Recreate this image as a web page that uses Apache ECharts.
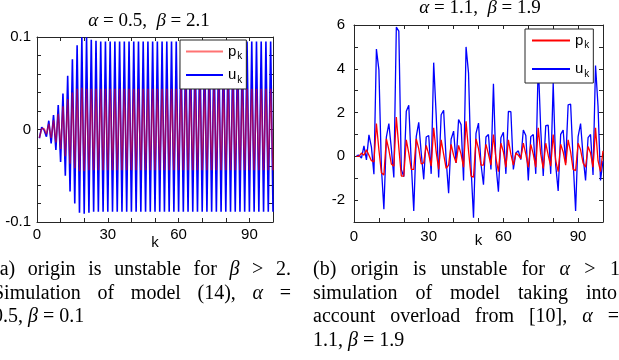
<!DOCTYPE html>
<html>
<head>
<meta charset="utf-8">
<script src="https://cdn.jsdelivr.net/npm/echarts@6/dist/echarts.min.js"></script>
<style>html,body{margin:0;padding:0;background:#fff;}#c{width:619px;height:360px;}</style>
</head>
<body>
<div id="c"></div>
<script>
// ---------- data ----------
const kSteps = Array.from({length: 100}, (_, i) => i + 1);
const xTicksLabelled = [0, 30, 60, 90];

// (a) alpha = 0.5, beta = 2.1
const uA = [
  -0.0095, 0.0024, -0.0005, -0.0077, 0.0095, -0.015, 0.0157, -0.022, 0.0265, -0.035,
  0.039, -0.050, 0.058, -0.067, 0.076, -0.080, 0.091, -0.090, 0.0996, -0.091,
  0.0996, -0.090, 0.097, -0.089, 0.096, -0.089, 0.095, -0.089, 0.095, -0.089,
  0.095, -0.089, 0.095, -0.089, 0.095, -0.089, 0.095, -0.089, 0.095, -0.089,
  0.095, -0.089, 0.095, -0.089, 0.095, -0.089, 0.095, -0.089, 0.095, -0.089,
  0.095, -0.089, 0.095, -0.089, 0.095, -0.089, 0.095, -0.089, 0.095, -0.089,
  0.095, -0.089, 0.095, -0.089, 0.095, -0.089, 0.095, -0.089, 0.095, -0.089,
  0.095, -0.089, 0.095, -0.089, 0.095, -0.089, 0.095, -0.089, 0.095, -0.089,
  0.095, -0.089, 0.095, -0.089, 0.095, -0.089, 0.095, -0.089, 0.095, -0.089,
  0.095, -0.089, 0.095, -0.089, 0.095, -0.089, 0.095, -0.089, 0.095, -0.089
];
const pA = [
  -0.009, 0.001, 0.001, -0.005, 0.006, -0.009, 0.010, -0.014, 0.017, -0.021,
  0.025, -0.029, 0.033, -0.037, 0.040, -0.042, 0.044, -0.045, 0.045, -0.045,
  0.044, -0.044, 0.044, -0.044, 0.044, -0.044, 0.044, -0.044, 0.044, -0.044,
  0.044, -0.044, 0.044, -0.044, 0.044, -0.044, 0.044, -0.044, 0.044, -0.044,
  0.044, -0.044, 0.044, -0.044, 0.044, -0.044, 0.044, -0.044, 0.044, -0.044,
  0.044, -0.044, 0.044, -0.044, 0.044, -0.044, 0.044, -0.044, 0.044, -0.044,
  0.044, -0.044, 0.044, -0.044, 0.044, -0.044, 0.044, -0.044, 0.044, -0.044,
  0.044, -0.044, 0.044, -0.044, 0.044, -0.044, 0.044, -0.044, 0.044, -0.044,
  0.044, -0.044, 0.044, -0.044, 0.044, -0.044, 0.044, -0.044, 0.044, -0.044,
  0.044, -0.044, 0.044, -0.044, 0.044, -0.044, 0.044, -0.044, 0.044, -0.044
];

// (b) alpha = 1.1, beta = 1.9
const uB = [
  0.03, 0.05, -0.08, 0.48, -0.16, 0.98, 0.42, -0.82, 4.9, 3.95,
  -0.5, -2.42, 0.88, 1.5, 0.35, -0.97, 5.9, 5.72, -0.6, -0.93,
  2.06, 2.33, -0.3, -2.5, 0.9, 1.55, 0.15, -1.05, 0.88, 0.95,
  -0.8, 4.28, 1.9, -0.97, 1.9, 2.1, -0.15, -1.68, 0.78, 1.15,
  -0.3, 1.68, 1.45, -1.1, 5.0, 3.8, -0.5, -2.8, 1.05, 1.52,
  -0.35, -1.3, 0.88, 1.0, -0.6, 3.32, -0.4, -1.62, 0.85, 1.1,
  -0.8, 2.05, 2.04, -0.6, 0.15, 0.25, -0.15, 1.2, 0.95, -1.1,
  0.9, 1.0, -0.8, 4.3, 1.2, -0.9, 1.4, 1.42, -0.8, 3.35,
  -0.4, -1.58, 1.0, 1.2, -0.3, 2.35, 2.38, -0.2, -2.5, 0.9,
  1.5, 0.0, -1.1, 0.85, 1.0, -0.85, 4.15, 2.3, -1.1, -0.2
];
const pB = [
  0.0, 0.0, 0.15, 0.05, 0.3, 0.05, -0.2, -0.25, 1.5, 0.3,
  -0.75, -0.85, 0.8, 0.3, -0.35, -0.45, 1.8, 0.4, -0.9, -0.9,
  0.75, 0.15, -0.6, -0.6, 0.8, 0.35, -0.35, -0.3, 0.5, 0.1,
  -0.45, 1.3, 0.2, -0.6, 0.75, 0.1, -0.55, -0.4, 0.55, 0.05,
  -0.3, 0.5, 0.1, -0.5, 1.6, 0.25, -0.9, -0.95, 0.8, 0.35,
  -0.4, -0.4, 0.55, 0.1, -0.4, 1.0, -0.1, -0.7, 0.6, 0.2,
  -0.5, 0.75, 0.1, -0.4, 0.15, 0.05, -0.1, 0.6, 0.1, -0.5,
  0.55, 0.1, -0.5, 1.3, 0.1, -0.55, 0.6, 0.05, -0.45, 1.0,
  -0.2, -0.7, 0.55, 0.2, -0.4, 0.75, 0.2, -0.6, -0.65, 0.6,
  0.3, -0.3, -0.5, 0.45, 0.15, -0.5, 1.3, -0.2, -0.7, 0.25
];

// ---------- helpers ----------
const SANS = '"Liberation Sans", Arial, sans-serif';
const SERIF = '"Liberation Serif", "Times New Roman", serif';
const AX = '#262626';
const mctx = document.createElement('canvas').getContext('2d');
function tw(t, it, size) {
  mctx.font = (it ? 'italic ' : '') + size + 'px ' + SERIF;
  return mctx.measureText(t).width;
}
function txt(t, x, y, size, it, font) {
  return {
    type: 'text', silent: true, z: 100,
    style: {
      text: t, x: x, y: y, fill: '#000',
      fontSize: size, fontFamily: font || SERIF, fontStyle: it ? 'italic' : 'normal',
      textAlign: 'left', align: 'left', textVerticalAlign: 'middle', verticalAlign: 'middle'
    }
  };
}
function run(pieces, x, y, size, center) {
  const ws = pieces.map(p => tw(p[0], p[1], size));
  const total = ws.reduce((a, b) => a + b, 0);
  let cx = center ? x - total / 2 : x;
  const out = [];
  pieces.forEach((p, i) => { out.push(txt(p[0], cx, y, size, p[1])); cx += ws[i]; });
  return out;
}
function justify(words, x0, x1, y, size) {
  const ws = words.map(p => tw(p[0], p[1], size));
  const total = ws.reduce((a, b) => a + b, 0);
  const gap = (x1 - x0 - total) / (words.length - 1);
  let cx = x0;
  const out = [];
  words.forEach((p, i) => { out.push(txt(p[0], cx, y, size, p[1])); cx += ws[i] + gap; });
  return out;
}
function pairs(ks, vs) { return ks.map((k, i) => [k, vs[i]]); }

const CAP = 20;
let graphics = [];
graphics = graphics.concat(
  run([['α', 1], [' = 0.5,  ', 0], ['β', 1], [' = 2.1', 0]], 149, 21, 19, true),
  run([['α', 1], [' = 1.1,  ', 0], ['β', 1], [' = 1.9', 0]], 480, 8, 19, true),
  justify([['(a)'], ['origin'], ['is'], ['unstable'], ['for'], ['β', 1], ['>'], ['2.']], -7, 291, 270, CAP),
  justify([['Simulation'], ['of'], ['model'], ['(14),'], ['α', 1], ['=']], -7, 291, 294, CAP),
  run([['0.5, ', 0], ['β', 1], [' = 0.1', 0]], -7, 317, CAP, false),
  justify([['(b)'], ['origin'], ['is'], ['unstable'], ['for'], ['α', 1], ['>'], ['1']], 313, 620, 270, CAP),
  justify([['simulation'], ['of'], ['model'], ['taking'], ['into']], 313, 617, 294, CAP),
  justify([['account'], ['overload'], ['from'], ['[10],'], ['α', 1], ['=']], 313, 619, 317, CAP),
  run([['1.1, ', 0], ['β', 1], [' = 1.9', 0]], 313, 341, CAP, false)
);

// ---------- axes ----------
function xAx(grid, pos, show, labelMargin, nameGap) {
  return {
    type: 'value', gridIndex: grid, position: pos, min: 0, max: 100, interval: 10,
    axisLine: { show: true, onZero: false, lineStyle: { color: AX, width: 1 } },
    axisTick: { show: true, inside: true, length: 4, lineStyle: { color: AX } },
    axisLabel: {
      show: show, margin: labelMargin, color: '#000', fontFamily: SANS, fontSize: 15,
      formatter: v => (xTicksLabelled.indexOf(v) >= 0 ? String(v) : '')
    },
    splitLine: { show: false },
    name: show ? 'k' : '', nameLocation: 'middle', nameGap: nameGap, nameMoveOverlap: false,
    nameTextStyle: { color: '#000', fontFamily: SANS, fontSize: 15 }
  };
}
function yAx(grid, pos, show, min, max, interval, fmt, margin) {
  return {
    type: 'value', gridIndex: grid, position: pos, min: min, max: max, interval: interval,
    axisLine: { show: true, onZero: false, lineStyle: { color: AX, width: 1 } },
    axisTick: { show: true, inside: true, length: 4, lineStyle: { color: AX } },
    axisLabel: { show: show, margin: margin, color: '#000', fontFamily: SANS, fontSize: 15, formatter: fmt },
    splitLine: { show: false }
  };
}
const fmtA = v => {
  if (Math.abs(v) < 1e-9) return '0';
  if (Math.abs(v - 0.1) < 1e-9) return '0.1';
  if (Math.abs(v + 0.1) < 1e-9) return '-0.1';
  return '';
};
const fmtB = v => (Math.round(v) % 2 === 0 ? String(Math.round(v)) : '');

const legendRich = {
  m: { fontSize: 15, fontFamily: SANS, color: '#000' },
  s: { fontSize: 10, fontFamily: SANS, color: '#000', padding: [10, 0, 0, 1] }
};
const legendFmt = name => '{m|' + name.charAt(0) + '}{s|k}';

const chart = echarts.init(document.getElementById('c'), null, { renderer: 'canvas' });
chart.setOption({
  animation: false,
  backgroundColor: '#fff',
  grid: [
    { left: 37, top: 37, width: 236, height: 185 },
    { left: 354, top: 25, width: 249, height: 197 }
  ],
  xAxis: [
    xAx(0, 'bottom', true, 5, 13),
    xAx(0, 'top', false, 5, 13),
    xAx(1, 'bottom', true, 7, 11),
    xAx(1, 'top', false, 7, 11)
  ],
  yAxis: [
    yAx(0, 'left', true, -0.1, 0.1, 0.02, fmtA, 6),
    yAx(0, 'right', false, -0.1, 0.1, 0.02, fmtA, 6),
    yAx(1, 'left', true, -3, 6, 1, fmtB, 9),
    yAx(1, 'right', false, -3, 6, 1, fmtB, 9)
  ],
  legend: [
    {
      data: ['p_a', 'u_a'], orient: 'vertical', left: 180, top: 40,
      itemWidth: 37, itemHeight: 14, itemGap: 6, padding: [4, 4, 4, 5],
      backgroundColor: '#fff', borderColor: AX, borderWidth: 1, borderRadius: 0,
      itemStyle: { opacity: 0 },
      formatter: legendFmt, textStyle: { rich: legendRich }, selectedMode: false
    },
    {
      data: ['p_b', 'u_b'], orient: 'vertical', left: 525, top: 29,
      itemWidth: 38, itemHeight: 14, itemGap: 11, padding: [4, 4, 4, 6],
      backgroundColor: '#fff', borderColor: AX, borderWidth: 1, borderRadius: 0,
      itemStyle: { opacity: 0 },
      formatter: legendFmt, textStyle: { rich: legendRich }, selectedMode: false
    }
  ],
  series: [
    { name: 'u_a', type: 'line', xAxisIndex: 0, yAxisIndex: 0, data: pairs(kSteps, uA), symbol: 'none',
      lineStyle: { color: '#0000ff', width: 1.6 }, itemStyle: { color: '#0000ff' } },
    { name: 'p_a', type: 'line', xAxisIndex: 0, yAxisIndex: 0, data: pairs(kSteps, pA), symbol: 'none',
      lineStyle: { color: '#ff0000', width: 1.6, opacity: 0.55 }, itemStyle: { color: '#ff6666' } },
    { name: 'u_b', type: 'line', xAxisIndex: 2, yAxisIndex: 2, data: pairs(kSteps, uB), symbol: 'none',
      lineStyle: { color: '#0000ff', width: 1.3 }, itemStyle: { color: '#0000ff' } },
    { name: 'p_b', type: 'line', xAxisIndex: 2, yAxisIndex: 2, data: pairs(kSteps, pB), symbol: 'none',
      lineStyle: { color: '#ff0000', width: 1.3 }, itemStyle: { color: '#ff0000' } }
  ],
  graphic: graphics
});
</script>
</body>
</html>
